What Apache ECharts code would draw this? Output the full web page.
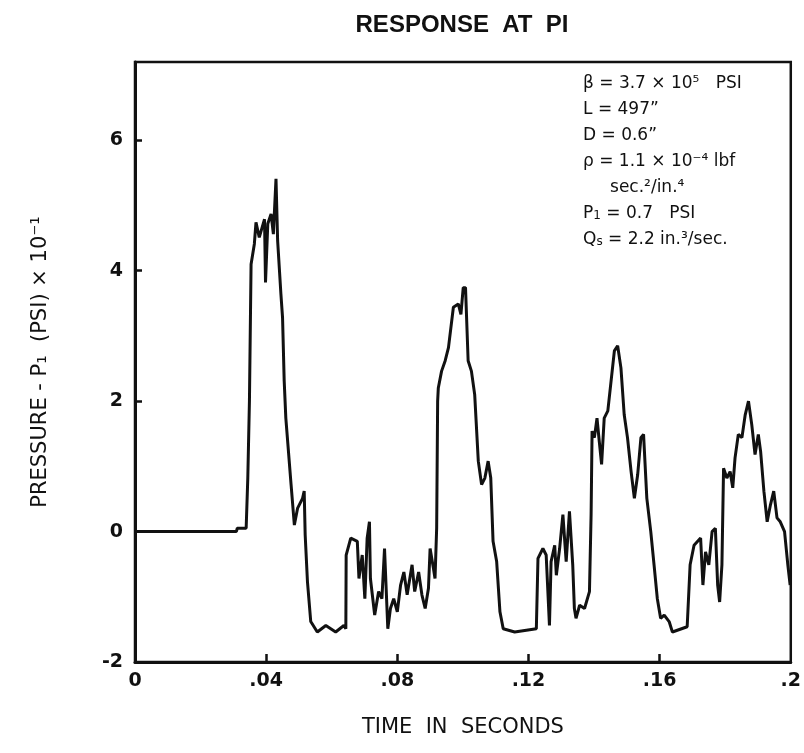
<!DOCTYPE html>
<html>
<head>
<meta charset="utf-8">
<script src="https://cdn.jsdelivr.net/npm/echarts@6/dist/echarts.min.js"></script>
<style>
  html, body { margin: 0; padding: 0; background: #fff; }
  #chart { width: 804px; height: 753px; }
</style>
</head>
<body>
<div id="chart"></div>
<script>
// time (s) and pressure (PSI x 10^-1)
var time = [
  0, 0.0309, 0.0312, 0.0339, 0.0344, 0.0349, 0.0354, 0.0364, 0.0369, 0.0379,
  0.0395, 0.0398, 0.0405, 0.0415, 0.0422, 0.0430, 0.0435, 0.0445, 0.0450, 0.0455,
  0.0460, 0.0476, 0.0486, 0.0496, 0.0511, 0.0516, 0.0519, 0.0526, 0.0536, 0.0556,
  0.0582, 0.0612, 0.0637, 0.0643, 0.0644, 0.0658, 0.0678, 0.0683, 0.0693, 0.0701,
  0.0708, 0.0715, 0.0718, 0.0731, 0.0743, 0.0753, 0.0761, 0.0767, 0.0771, 0.0779,
  0.0789, 0.0800, 0.0810, 0.0820, 0.0830, 0.0845, 0.0853, 0.0865, 0.0875, 0.0885,
  0.0895, 0.0900, 0.0910, 0.0915, 0.0920, 0.0923, 0.0925, 0.0935, 0.0946, 0.0956,
  0.0971, 0.0986, 0.0994, 0.1001, 0.1008, 0.1016, 0.1026, 0.1036, 0.1047, 0.1057,
  0.1067, 0.1077, 0.1085, 0.1092, 0.1103, 0.1113, 0.1123, 0.1158, 0.1224, 0.1229,
  0.1244, 0.1254, 0.1264, 0.1269, 0.1280, 0.1285, 0.1295, 0.1305, 0.1315, 0.1325,
  0.1335, 0.1340, 0.1345, 0.1356, 0.1371, 0.1386, 0.1391, 0.1394, 0.1401, 0.1409,
  0.1416, 0.1423, 0.1431, 0.1442, 0.1452, 0.1462, 0.1472, 0.1482, 0.1492, 0.1502,
  0.1513, 0.1523, 0.1533, 0.1543, 0.1551, 0.1561, 0.1573, 0.1583, 0.1593, 0.1603,
  0.1614, 0.1629, 0.1639, 0.1684, 0.1693, 0.1705, 0.1725, 0.1732, 0.1740, 0.1750,
  0.1760, 0.1770, 0.1777, 0.1783, 0.1790, 0.1795, 0.1805, 0.1815, 0.1823, 0.1830,
  0.1840, 0.1851, 0.1861, 0.1871, 0.1881, 0.1891, 0.1901, 0.1908, 0.1918, 0.1928,
  0.1938, 0.1948, 0.1958, 0.1968, 0.1981, 0.1991, 0.1998
];
var pressure = [
  0, 0, 0.05, 0.05, 0.82, 2.0, 4.10, 4.41, 4.74, 4.51,
  4.79, 3.82, 4.72, 4.87, 4.56, 5.41, 4.46, 3.64, 3.28, 2.31,
  1.74, 0.72, 0.10, 0.36, 0.51, 0.62, -0.05, -0.77, -1.38, -1.54,
  -1.44, -1.54, -1.44, -1.49, -0.36, -0.10, -0.15, -0.72, -0.36, -1.03,
  -0.10, 0.15, -0.72, -1.28, -0.92, -1.03, -0.26, -0.26, -1.49, -1.18,
  -1.03, -1.23, -0.82, -0.62, -0.97, -0.51, -0.92, -0.62, -0.97, -1.18,
  -0.87, -0.26, -0.56, -0.72, 0.05, 2.0, 2.2, 2.46, 2.62, 2.82,
  3.44, 3.49, 3.33, 3.74, 3.74, 2.62, 2.46, 2.10, 1.08, 0.72,
  0.82, 1.08, 0.82, -0.15, -0.46, -1.23, -1.49, -1.54, -1.49, -0.41,
  -0.26, -0.36, -1.44, -0.46, -0.21, -0.67, -0.26, 0.26, -0.46, 0.31,
  -0.51, -1.18, -1.33, -1.13, -1.18, -0.92, 0.26, 1.54, 1.44, 1.74,
  1.38, 1.03, 1.74, 1.85, 2.31, 2.77, 2.85, 2.51, 1.79, 1.44,
  0.92, 0.51, 0.87, 1.44, 1.49, 0.51, 0, -0.51, -1.03, -1.33,
  -1.28, -1.38, -1.54, -1.46, -0.51, -0.21, -0.10, -0.82, -0.31, -0.51,
  0, 0.05, -0.82, -1.08, -0.51, 0.97, 0.82, 0.92, 0.67, 1.13,
  1.49, 1.44, 1.79, 2.0, 1.64, 1.18, 1.49, 1.23, 0.62, 0.15,
  0.41, 0.62, 0.21, 0.15, 0, -0.51, -0.82
];
var xTicks = [0, 0.04, 0.08, 0.12, 0.16, 0.2];
var yTicks = [-2, 0, 2, 4, 6];

var ink = '#111';
var chart = echarts.init(document.getElementById('chart'));

var points = time.map(function (t, i) { return [t, pressure[i]]; });

function tickLabel(v) {
  if (v === 0) return '0';
  return String(+v.toFixed(2)).replace(/^0/, '');
}

chart.setOption({
  backgroundColor: '#fff',
  animation: false,
  title: {
    text: 'RESPONSE  AT  PI',
    left: 457,
    top: 8,
    textAlign: 'center',
    textStyle: {
      fontFamily: 'Liberation Sans',
      fontWeight: 'bold',
      fontSize: 24,
      color: ink
    }
  },
  grid: {
    left: 135,
    top: 62,
    right: 10,
    bottom: 91,
    show: true,
    borderColor: ink,
    borderWidth: 2.5
  },
  xAxis: {
    type: 'value',
    min: 0,
    max: 0.2,
    interval: 0.04,
    name: 'TIME  IN  SECONDS',
    nameLocation: 'middle',
    nameGap: 55,
    nameTextStyle: { fontFamily: 'DejaVu Sans', fontSize: 21, color: ink },
    axisLine: { onZero: false, lineStyle: { color: ink, width: 3 } },
    axisTick: {
      inside: true, length: 8,
      customValues: xTicks.slice(1, -1),
      lineStyle: { color: ink, width: 2.5 }
    },
    splitLine: { show: false },
    axisLabel: {
      margin: 10,
      fontFamily: 'DejaVu Sans',
      fontWeight: 'bold',
      fontSize: 19,
      color: ink,
      customValues: xTicks,
      formatter: tickLabel
    }
  },
  yAxis: {
    type: 'value',
    min: -2,
    max: 7.2,
    interval: 2,
    name: 'PRESSURE - P\u2081  (PSI) \u00d7 10\u207b\u00b9',
    nameLocation: 'middle',
    nameGap: 84,
    nameRotate: 90,
    nameTextStyle: { fontFamily: 'DejaVu Sans', fontSize: 21, color: ink },
    axisLine: { onZero: false, lineStyle: { color: ink, width: 3 } },
    axisTick: {
      inside: true, length: 7,
      customValues: yTicks.slice(1),
      lineStyle: { color: ink, width: 2.5 }
    },
    splitLine: { show: false },
    axisLabel: {
      margin: 12,
      fontFamily: 'DejaVu Sans',
      fontWeight: 'bold',
      fontSize: 19,
      color: ink,
      customValues: yTicks,
      formatter: function (v) { return String(v); }
    }
  },
  series: [{
    type: 'line',
    data: points,
    showSymbol: false,
    lineStyle: { color: ink, width: 3 },
    clip: true
  }],
  graphic: [{
    type: 'text',
    left: 583,
    top: 75,
    style: {
      text: [
        '{t|\u03b2 = 3.7 \u00d7 10\u2075   PSI}',
        '{t|L = 497\u201d}',
        '{t|D = 0.6\u201d}',
        '{t|\u03c1 = 1.1 \u00d7 10\u207b\u2074 lbf}',
        '{t|     sec.\u00b2/in.\u2074}',
        '{t|P}{b|1}{t| = 0.7   PSI}',
        '{t|Q}{b|s}{t| = 2.2 in.\u00b3/sec.}'
      ].join('\n'),
      fill: ink,
      rich: {
        t: { fontFamily: 'DejaVu Sans', fontSize: 17, lineHeight: 26, fill: ink, verticalAlign: 'bottom' },
        b: { fontFamily: 'DejaVu Sans', fontSize: 12, lineHeight: 22, fill: ink, verticalAlign: 'bottom' }
      }
    }
  }]
});
</script>
</body>
</html>
